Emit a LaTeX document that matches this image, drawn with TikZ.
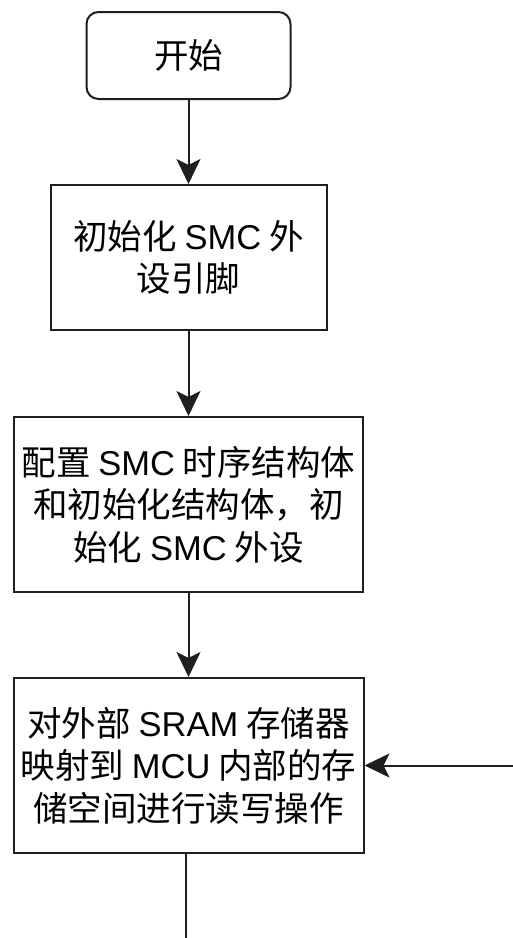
\documentclass[tikz,border=0pt]{standalone}
\usepackage{fontspec}
\setmainfont{Noto Sans CJK SC}
\newfontfamily\lat{Liberation Sans}
\usetikzlibrary{arrows.meta}
\begin{document}
\begin{tikzpicture}[x=1pt,y=1pt,
  box/.style={draw=black!88, line width=2pt, fill=white, inner sep=0pt, align=center,
    font=\fontsize{34.5}{42.5}\selectfont},
  flow/.style={draw=black!88, line width=2pt, -{Stealth[length=25pt,width=24pt,inset=6pt]}},
  plain/.style={draw=black!88, line width=2pt}]
\useasboundingbox (0,0) rectangle (513,-938);
\node[box, rounded corners=12pt, minimum width=204pt, minimum height=87pt] (start) at (188.5,-55.5) {开始};
\node[box, minimum width=276pt, minimum height=145pt] (b1) at (188.5,-257.5) {初始化 {\lat SMC} 外\\设引脚};
\node[box, minimum width=349pt, minimum height=175pt] (b2) at (188.5,-504.5) {配置 {\lat SMC} 时序结构体\\和初始化结构体，初\\始化 {\lat SMC} 外设};
\node[box, minimum width=350pt, minimum height=175pt] (b3) at (188.5,-765.5) {对外部 {\lat SRAM} 存储器\\映射到 {\lat MCU} 内部的存\\储空间进行读写操作};
\coordinate (bot) at (186,-940);
\coordinate (rin) at (515,-765.5);
\draw[flow] (start.south) -- (b1.north);
\draw[flow] (b1.south) -- (b2.north);
\draw[flow] (b2.south) -- (b3.north);
\draw[plain] (b3.south -| bot) -- (bot);
\draw[flow] (rin) -- (b3.east);
\end{tikzpicture}
\end{document}
